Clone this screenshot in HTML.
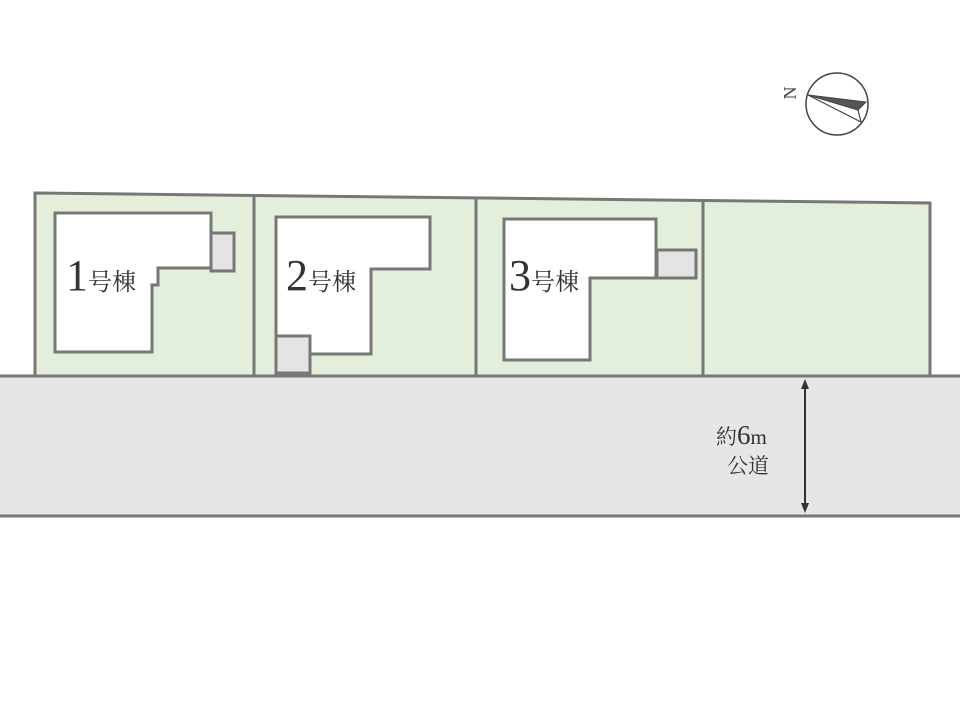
<!DOCTYPE html>
<html><head><meta charset="utf-8"><style>body{margin:0;background:#fff}svg{display:block}</style></head><body>
<svg width="960" height="720" viewBox="0 0 960 720" xmlns="http://www.w3.org/2000/svg" font-family="'Liberation Serif','Noto Serif CJK SC',serif">
<rect width="960" height="720" fill="#fff"/>
<polygon points="35,193 930,203 930,377 35,377" fill="#e3efdb" stroke="#777" stroke-width="3"/>
<line x1="254" y1="195" x2="254" y2="377" stroke="#777" stroke-width="3"/>
<line x1="476" y1="198" x2="476" y2="377" stroke="#777" stroke-width="3"/>
<line x1="703" y1="200" x2="703" y2="377" stroke="#777" stroke-width="3"/>
<rect x="-2" y="376" width="964" height="140" fill="#e6e6e6" stroke="#777" stroke-width="3"/>
<g stroke="#777" stroke-width="3">
<polygon points="55,213 211,213 211,268 158,268 158,285 152,285 152,352 55,352" fill="#fff"/>
<rect x="211" y="233" width="23" height="38" fill="#e4e4e4"/>
<polygon points="276,217 430,217 430,269 371,269 371,354 310,354 310,336 276,336" fill="#fff"/>
<rect x="276" y="336" width="34" height="37" fill="#e4e4e4"/>
<polygon points="504,219 656,219 656,278 590,278 590,360 504,360" fill="#fff"/>
<rect x="657" y="250" width="39" height="28" fill="#e4e4e4"/>
</g>
<g fill="#333">
<text x="66" y="290" font-size="44">1<tspan font-size="24">号棟</tspan></text>
<text x="286" y="290" font-size="44">2<tspan font-size="24">号棟</tspan></text>
<text x="509" y="290" font-size="44">3<tspan font-size="24">号棟</tspan></text>
<text x="716" y="444" font-size="21">約<tspan font-size="27">6</tspan>m</text>
<text x="727" y="473" font-size="21">公道</text>
</g>
<line x1="805" y1="386" x2="805" y2="506" stroke="#333" stroke-width="2"/>
<polygon points="805,379 801,389 809,389" fill="#333"/>
<polygon points="805,513 801,503 809,503" fill="#333"/>
<circle cx="837" cy="104" r="31" fill="#fff" stroke="#444" stroke-width="1.5"/>
<polygon points="808,95 866,102 858,110" fill="#555" stroke="#444" stroke-width="1"/>
<polyline points="808,95 861,122 858,110" fill="none" stroke="#444" stroke-width="1.2"/>
<text x="0" y="0" font-size="18" fill="#444" text-anchor="middle" transform="translate(796,93) rotate(-90)">N</text>
</svg>
</body></html>
